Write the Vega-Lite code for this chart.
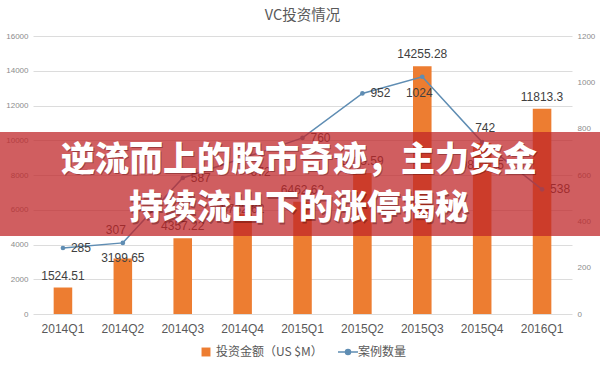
{
  "$schema": "https://vega.github.io/schema/vega-lite/v6.json",
  "width": 539,
  "height": 278,
  "autosize": {"type": "none"},
  "padding": {"left": 33, "top": 36, "right": 28, "bottom": 54},
  "background": "white",
  "config": {"view": {"stroke": null}, "font": "Liberation Sans"},
  "title": {"text": "VC投资情况", "font": "Noto Sans CJK SC", "fontSize": 14.5, "fontWeight": "normal", "color": "#595959", "offset": 9, "anchor": "middle"},
  "datasets": {
    "vc": [
      {"quarter": "2014Q1", "amount": 1524.51, "cases": 285},
      {"quarter": "2014Q2", "amount": 3199.65, "cases": 307},
      {"quarter": "2014Q3", "amount": 4357.22, "cases": 587},
      {"quarter": "2014Q4", "amount": 5762.62, "cases": 672},
      {"quarter": "2015Q1", "amount": 6462.62, "cases": 760},
      {"quarter": "2015Q2", "amount": 8115.59, "cases": 952},
      {"quarter": "2015Q3", "amount": 14255.28, "cases": 1024},
      {"quarter": "2015Q4", "amount": 9842.15, "cases": 742},
      {"quarter": "2016Q1", "amount": 11813.3, "cases": 538}
    ]
  },
  "data": {"name": "vc"},
  "layer": [
    {
      "encoding": {
        "x": {"field": "quarter", "type": "nominal", "sort": null,
          "scale": {"paddingInner": 0.69, "paddingOuter": 0.345},
          "axis": {"title": null, "labelAngle": 0, "labelFontSize": 12, "labelColor": "#595959", "labelPadding": 9, "ticks": false, "domain": false}},
        "y": {"field": "amount", "type": "quantitative",
          "scale": {"domain": [0, 16000], "nice": false},
          "axis": {"title": null, "values": [0, 2000, 4000, 6000, 8000, 10000, 12000, 14000, 16000], "format": "d", "labelFontSize": 8, "labelColor": "#8c8c8c", "labelPadding": 5, "ticks": false, "domain": false, "grid": true, "gridColor": "#dcdcdc"}}
      },
      "layer": [
        {
          "mark": {"type": "bar", "color": "#ED7D31"},
          "encoding": {
            "color": {"datum": "投资金额（US $M）", "type": "nominal",
              "scale": {"domain": ["投资金额（US $M）", "案例数量"], "range": ["#ED7D31", "#5F8DB3"]},
              "legend": {"title": null, "orient": "none", "legendX": 167, "legendY": 310, "direction": "horizontal",
                "labelFont": "Noto Sans CJK SC", "labelFontSize": 12, "labelColor": "#595959",
                "symbolSize": 80, "columnPadding": 12,
                "encode": {"symbols": {"update": {
                  "shape": {"signal": "datum.value === '案例数量' ? 'M-1,0H1M-0.25,0A0.25,0.25,0,1,1,0.25,0A0.25,0.25,0,1,1,-0.25,0' : 'square'"},
                  "size": {"signal": "datum.value === '案例数量' ? 400 : 80"},
                  "fill": {"signal": "scale('color', datum.value)"},
                  "stroke": {"signal": "scale('color', datum.value)"},
                  "strokeWidth": {"signal": "datum.value === '案例数量' ? 1.5 : 0"}
                }}}}
            }
          }
        },
        {
          "transform": [{"filter": "indexof(['2014Q2','2014Q4','2015Q4'], datum.quarter) < 0"}],
          "mark": {"type": "text", "dy": -12, "fontSize": 12, "color": "#404040", "baseline": "middle"},
          "encoding": {"text": {"field": "amount", "type": "nominal"}}
        },
        {
          "transform": [{"filter": "datum.quarter === '2014Q2'"}],
          "mark": {"type": "text", "dy": 0, "fontSize": 12, "color": "#404040", "baseline": "middle"},
          "encoding": {"text": {"field": "amount", "type": "nominal"}}
        },
        {
          "transform": [{"filter": "datum.quarter === '2014Q4'"}],
          "mark": {"type": "text", "dy": -5, "fontSize": 12, "color": "#404040", "baseline": "middle"},
          "encoding": {"text": {"field": "amount", "type": "nominal"}}
        },
        {
          "transform": [{"filter": "datum.quarter === '2015Q4'"}],
          "mark": {"type": "text", "dy": 22, "fontSize": 12, "color": "#404040", "baseline": "middle"},
          "encoding": {"text": {"field": "amount", "type": "nominal"}}
        }
      ]
    },
    {
      "encoding": {
        "x": {"field": "quarter", "type": "nominal", "sort": null, "axis": null},
        "y": {"field": "cases", "type": "quantitative",
          "scale": {"domain": [0, 1200], "nice": false},
          "axis": {"orient": "right", "title": null, "values": [0, 200, 400, 600, 800, 1000, 1200], "format": "d", "labelFontSize": 8, "labelColor": "#8c8c8c", "labelPadding": 5, "ticks": false, "domain": false, "grid": false}}
      },
      "layer": [
        {
          "mark": {"type": "line", "strokeWidth": 1.5, "point": {"filled": true, "size": 22}},
          "encoding": {"color": {"datum": "案例数量", "type": "nominal"}}
        },
        {
          "transform": [{"filter": "indexof(['2014Q1','2014Q3','2015Q1','2015Q2','2016Q1'], datum.quarter) >= 0"}],
          "mark": {"type": "text", "align": "left", "dx": 8, "baseline": "middle", "fontSize": 12, "color": "#404040"},
          "encoding": {"text": {"field": "cases", "type": "nominal"}}
        },
        {
          "transform": [{"filter": "datum.quarter === '2014Q2'"}],
          "mark": {"type": "text", "align": "center", "dx": -7, "dy": -13, "baseline": "middle", "fontSize": 12, "color": "#404040"},
          "encoding": {"text": {"field": "cases", "type": "nominal"}}
        },
        {
          "transform": [{"filter": "datum.quarter === '2014Q4'"}],
          "mark": {"type": "text", "align": "left", "dx": 8, "dy": 14, "baseline": "middle", "fontSize": 12, "color": "#404040"},
          "encoding": {"text": {"field": "cases", "type": "nominal"}}
        },
        {
          "transform": [{"filter": "datum.quarter === '2015Q3'"}],
          "mark": {"type": "text", "align": "center", "dx": -3, "dy": 16, "baseline": "middle", "fontSize": 12, "color": "#404040"},
          "encoding": {"text": {"field": "cases", "type": "nominal"}}
        },
        {
          "transform": [{"filter": "datum.quarter === '2015Q4'"}],
          "mark": {"type": "text", "align": "center", "dx": 3, "dy": -14, "baseline": "middle", "fontSize": 12, "color": "#404040"},
          "encoding": {"text": {"field": "cases", "type": "nominal"}}
        }
      ]
    },
    {
      "data": {"values": [{"line": 1, "headline": "逆流而上的股市奇迹，主力资金"}, {"line": 2, "headline": "持续流出下的涨停揭秘"}]},
      "encoding": {
        "x": {"datum": -33, "type": "quantitative", "scale": {"domain": [0, 539], "nice": false, "zero": false}, "axis": null},
        "y": {"datum": 10475, "type": "quantitative", "scale": {"domain": [0, 16000], "nice": false}, "axis": null}
      },
      "layer": [
        {
          "transform": [{"filter": "datum.line === 1"}],
          "mark": {"type": "rect", "color": "#c02628", "opacity": 0.74},
          "encoding": {"x2": {"datum": 567}, "y2": {"datum": 4489}}
        },
        {
          "transform": [{"filter": "datum.line === 1"}],
          "mark": {"type": "text", "color": "rgba(60,0,0,0.35)", "dx": 1, "dy": 1.5, "font": "Noto Sans CJK SC", "fontSize": 34, "fontWeight": 900, "align": "center", "baseline": "middle"},
          "encoding": {"x": {"datum": 266, "type": "quantitative"}, "y": {"datum": 8806, "type": "quantitative"}, "text": {"field": "headline"}}
        },
        {
          "transform": [{"filter": "datum.line === 1"}],
          "mark": {"type": "text", "color": "white", "font": "Noto Sans CJK SC", "fontSize": 34, "fontWeight": 900, "align": "center", "baseline": "middle"},
          "encoding": {"x": {"datum": 266, "type": "quantitative"}, "y": {"datum": 8806, "type": "quantitative"}, "text": {"field": "headline"}}
        },
        {
          "transform": [{"filter": "datum.line === 2"}],
          "mark": {"type": "text", "color": "rgba(60,0,0,0.35)", "dx": 1, "dy": 1.5, "font": "Noto Sans CJK SC", "fontSize": 34, "fontWeight": 900, "align": "center", "baseline": "middle"},
          "encoding": {"x": {"datum": 266, "type": "quantitative"}, "y": {"datum": 6043, "type": "quantitative"}, "text": {"field": "headline"}}
        },
        {
          "transform": [{"filter": "datum.line === 2"}],
          "mark": {"type": "text", "color": "white", "font": "Noto Sans CJK SC", "fontSize": 34, "fontWeight": 900, "align": "center", "baseline": "middle"},
          "encoding": {"x": {"datum": 266, "type": "quantitative"}, "y": {"datum": 6043, "type": "quantitative"}, "text": {"field": "headline"}}
        }
      ]
    }
  ],
  "resolve": {"scale": {"x": "independent", "y": "independent"}, "axis": {"x": "independent", "y": "independent"}}
}
